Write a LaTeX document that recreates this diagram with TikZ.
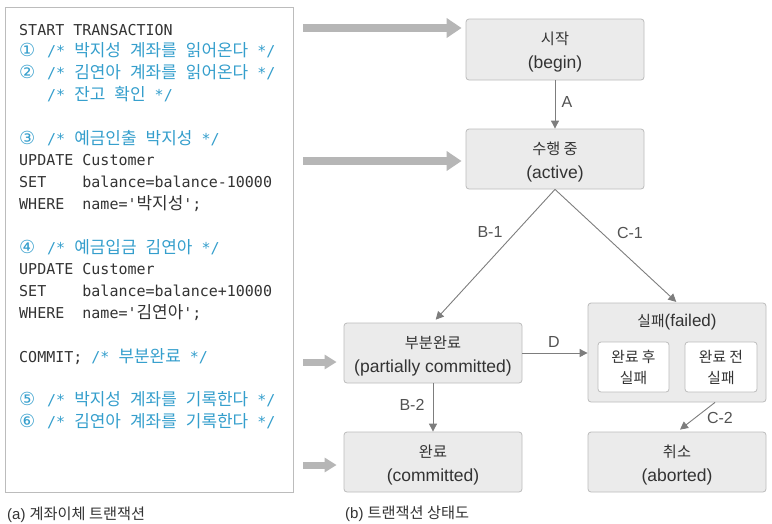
\documentclass[tikz,border=0pt]{standalone}
\usepackage{fontspec}
\setmainfont{Liberation Sans}
\setmonofont{DejaVu Sans Mono}
\newfontfamily\kr[Scale=0.87]{Noto Sans CJK KR}
\newfontfamily\krc[Scale=1.13]{Noto Sans CJK KR}
\newfontfamily\circfont{DejaVu Sans}
\usetikzlibrary{arrows.meta,calc}
\definecolor{cmt}{RGB}{52,158,204}
\definecolor{ink}{RGB}{51,51,51}
\definecolor{boxfill}{RGB}{235,235,235}
\definecolor{boxline}{RGB}{188,188,188}
\definecolor{conncol}{RGB}{125,125,125}
\definecolor{bigarrow}{RGB}{182,182,182}
\newcommand\K[1]{{\krc #1}}
\newcommand\cnum[1]{\makebox[28pt][l]{{\circfont\fontsize{18}{18}\selectfont #1}}}
\newcommand\KC[1]{{\kr\fontsize{17.5}{17}\selectfont #1}}
\begin{document}
\begin{tikzpicture}[x=1pt,y=-1pt,
 codeline/.style={anchor=base west, inner sep=0pt, font=\ttfamily\fontsize{15}{18}\selectfont, text=ink},
 cmtline/.style={codeline, text=cmt},
 statebox/.style={draw=boxline, fill=boxfill, rounded corners=3pt, line width=0.8pt, minimum width=178pt, minimum height=60pt, align=center, text=ink, font=\fontsize{17.5}{24}\selectfont, inner sep=0pt, text height=42pt, text depth=4pt},
 subbox/.style={draw=boxline, fill=white, rounded corners=3pt, line width=0.8pt, minimum width=71pt, minimum height=50pt, align=center, text=ink, font=\kr\fontsize{17}{21}\selectfont, inner sep=0pt},
 connarrow/.style={draw=conncol, line width=0.9pt, -{Triangle[length=8pt,width=8pt]}},
 lbltext/.style={text=ink!85, font=\fontsize{16}{16}\selectfont, inner sep=0pt},
 fatarrow/.style={draw=bigarrow, line width=8pt, -{Triangle[length=15pt,width=19pt]}},
 fatsmall/.style={draw=bigarrow, line width=7pt, -{Triangle[length=12pt,width=14pt]}},
 captext/.style={anchor=base west, inner sep=0pt, text=ink, font=\fontsize{15}{16}\selectfont}
]
\useasboundingbox (0,0) rectangle (772,523);
% left code frame
\node[draw=boxline, line width=0.8pt, minimum width=288pt, minimum height=485pt, anchor=north west, inner sep=0pt] (frame) at (5,7) {};
\node[codeline] (l1) at (19,35) {START TRANSACTION};
\node[cmtline] (l2) at (19,56.8) {\cnum{①}/* \K{박지성} \K{계좌를} \K{읽어온다} */};
\node[cmtline] (l3) at (19,78.6) {\cnum{②}/* \K{김연아} \K{계좌를} \K{읽어온다} */};
\node[cmtline] (l4) at (47,100.4) {/* \K{잔고} \K{확인} */};
\node[cmtline] (l5) at (19,144) {\cnum{③}/* \K{예금인출} \K{박지성} */};
\node[codeline] (l6) at (19,165.8) {UPDATE Customer};
\node[codeline] (l7) at (19,187.6) {SET\ \ \ \ balance=balance-10000};
\node[codeline] (l8) at (19,209.4) {WHERE\ \ name='\K{박지성}';};
\node[cmtline] (l9) at (19,253) {\cnum{④}/* \K{예금입금} \K{김연아} */};
\node[codeline] (l10) at (19,274.8) {UPDATE Customer};
\node[codeline] (l11) at (19,296.6) {SET\ \ \ \ balance=balance+10000};
\node[codeline] (l12) at (19,318.4) {WHERE\ \ name='\K{김연아}';};
\node[codeline] (l13) at (19,362) {COMMIT; \textcolor{cmt}{/* \K{부분완료} */}};
\node[cmtline] (l14) at (19,405.6) {\cnum{⑤}/* \K{박지성} \K{계좌를} \K{기록한다} */};
\node[cmtline] (l15) at (19,427.4) {\cnum{⑥}/* \K{김연아} \K{계좌를} \K{기록한다} */};
% states
\node[statebox, minimum height=61pt] (begin) at (555,49.5) {{\kr 시작}\\(begin)};
\node[statebox] (active) at (555,159) {{\kr 수행 중}\\(active)};
\node[statebox] (partial) at (433,353) {{\kr 부분완료}\\(partially committed)};
\node[statebox] (committed) at (433,462) {{\kr 완료}\\(committed)};
\node[draw=boxline, fill=boxfill, rounded corners=3pt, line width=0.8pt, minimum width=178pt, minimum height=99pt, inner sep=0pt] (failed) at (677,352.5) {};
\node[text=ink, font=\fontsize{17}{24}\selectfont, inner sep=0pt] (failedtitle) at (677,322) {{\kr 실패}(failed)};
\node[subbox] (after) at (633.5,367) {완료 후\\실패};
\node[subbox, minimum width=72pt] (before) at (721,367) {완료 전\\실패};
\node[statebox] (aborted) at (677,462) {{\kr 취소}\\(aborted)};
% connectors
\draw[connarrow] (begin.south) -- (active.north);
\draw[connarrow, shorten >=4pt] (active.south) -- (partial.north);
\draw[connarrow, shorten >=1pt] (active.south) -- (failed.north);
\draw[connarrow] (partial.east) -- (partial.east -| failed.west);
\draw[connarrow] (partial.south) -- (committed.north);
\draw[connarrow] ([xshift=38pt]failed.south) -- ([xshift=3pt,yshift=2pt]aborted.north);
% labels
\node[lbltext] (la) at (567,102) {A};
\node[lbltext] (lb1) at (490,232) {B-1};
\node[lbltext] (lc1) at (630,233) {C-1};
\node[lbltext] (ld) at (554,342) {D};
\node[lbltext] (lb2) at (412,405) {B-2};
\node[lbltext] (lc2) at (720,418) {C-2};
% fat arrows
\coordinate (s1) at (303,28);
\coordinate (s2) at (303,161);
\coordinate (s3) at (303,362);
\coordinate (s4) at (303,465);
\draw[fatarrow] (s1) -- ($(s1 -| begin.west)+(-4,0)$);
\draw[fatarrow] (s2) -- ($(s2 -| active.west)+(-4,0)$);
\draw[fatsmall] (s3) -- ($(s3 -| partial.west)+(-7,0)$);
\draw[fatsmall] (s4) -- ($(s4 -| committed.west)+(-7,0)$);
% captions
\node[captext] (capa) at (7,519) {(a) \KC{계좌이체 트랜잭션}};
\node[captext] (capb) at (345,518) {(b) \KC{트랜잭션 상태도}};
\end{tikzpicture}
\end{document}
